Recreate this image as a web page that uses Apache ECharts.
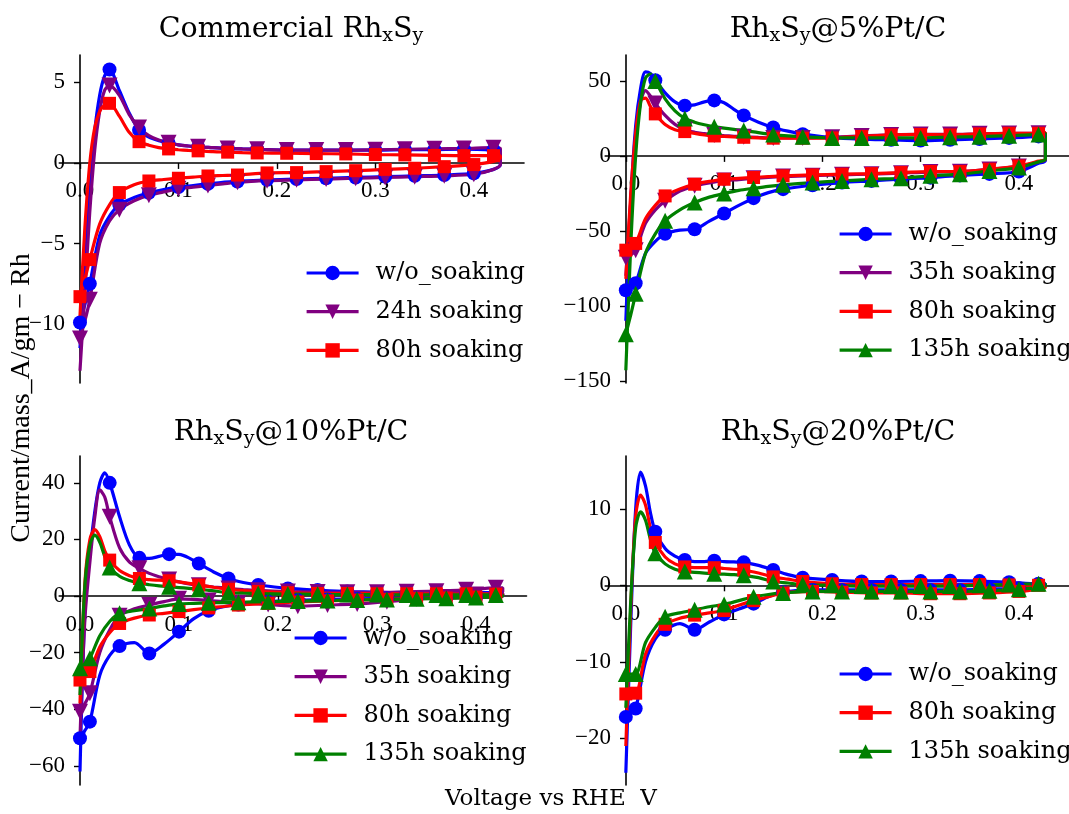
<!DOCTYPE html>
<html><head><meta charset="utf-8">
<script src="https://cdn.jsdelivr.net/npm/echarts@6/dist/echarts.min.js"></script>
<style>html,body{margin:0;padding:0;background:#fff}#c{width:1069px;height:814px}</style>
</head><body><div id="c"></div>
<script>
// ---- shared voltage sampling of the cyclic scans ----
const UP_X = [0, 0.005, 0.01, 0.015, 0.02, 0.025, 0.03, 0.04, 0.05, 0.06, 0.07, 0.08, 0.09, 0.10, 0.11, 0.12, 0.135, 0.15, 0.165, 0.18, 0.21, 0.24, 0.27, 0.30, 0.33, 0.36, 0.39, 0.42, 0.427];
const LO_X = [0.427, 0.42, 0.40, 0.37, 0.34, 0.31, 0.28, 0.25, 0.22, 0.19, 0.16, 0.145, 0.13, 0.115, 0.10, 0.085, 0.07, 0.055, 0.04, 0.03, 0.02, 0.01, 0.005, 0];
const UP_MARK_X = [0.03, 0.06, 0.09, 0.12, 0.15, 0.18, 0.21, 0.24, 0.27, 0.30, 0.33, 0.36, 0.39, 0.42];
const LO_MARK_X = [0.40, 0.37, 0.34, 0.31, 0.28, 0.25, 0.22, 0.19, 0.16, 0.13, 0.10, 0.07, 0.04, 0.01, 0];

const X_TICKS = [0, 0.1, 0.2, 0.3, 0.4];
const Y_TICKS_1 = [-10, -5, 0, 5];
const Y_TICKS_2 = [-150, -100, -50, 0, 50];
const Y_TICKS_3 = [-60, -40, -20, 0, 20, 40];
const Y_TICKS_4 = [-20, -10, 0, 10];

const TITLES = ['Commercial Rh{s|x}S{s|y}', 'Rh{s|x}S{s|y}@5%Pt/C', 'Rh{s|x}S{s|y}@10%Pt/C', 'Rh{s|x}S{s|y}@20%Pt/C'];
const LEG_1 = ['w/o_soaking', '24h soaking', '80h soaking'];
const LEG_2 = ['w/o_soaking', '35h soaking', '80h soaking', '135h soaking'];
const LEG_3 = ['w/o_soaking', '35h soaking', '80h soaking', '135h soaking'];
const LEG_4 = ['w/o_soaking', '80h soaking', '135h soaking'];

// ---- Panel 1: Commercial RhxSy ----
const P1_WO_UP = [-11.5, -6.5, -1.5, 2.0, 4.2, 5.4, 5.8, 4.5, 3.1, 2.05, 1.6, 1.38, 1.24, 1.12, 1.05, 1.0, 0.95, 0.9, 0.87, 0.85, 0.8, 0.8, 0.8, 0.8, 0.82, 0.83, 0.85, 0.8, 0.75];
const P1_WO_LO = [-0.1, -0.4, -0.65, -0.75, -0.8, -0.85, -0.9, -0.95, -1.0, -1.05, -1.15, -1.2, -1.3, -1.4, -1.5, -1.65, -1.85, -2.15, -2.6, -3.3, -4.5, -7.5, -8.8, -9.9];
const P1_24_UP = [-12.9, -8.0, -3.0, 0.8, 3.2, 4.5, 4.8, 4.2, 3.0, 2.2, 1.7, 1.42, 1.25, 1.12, 1.05, 1.0, 0.95, 0.9, 0.87, 0.85, 0.8, 0.8, 0.8, 0.82, 0.85, 0.88, 0.9, 0.95, 0.9];
const P1_24_LO = [-0.1, -0.4, -0.7, -0.8, -0.85, -0.9, -0.95, -1.0, -1.05, -1.1, -1.2, -1.3, -1.4, -1.5, -1.6, -1.8, -2.0, -2.35, -2.9, -3.6, -5.0, -8.5, -9.8, -10.9];
const P1_80_UP = [-9.5, -4.0, 0.0, 2.2, 3.2, 3.6, 3.7, 2.9, 1.9, 1.32, 1.1, 0.95, 0.87, 0.82, 0.78, 0.75, 0.7, 0.67, 0.64, 0.62, 0.6, 0.58, 0.56, 0.52, 0.5, 0.47, 0.45, 0.45, 0.45];
const P1_80_LO = [0.3, 0.1, -0.1, -0.23, -0.33, -0.4, -0.48, -0.54, -0.6, -0.62, -0.75, -0.78, -0.81, -0.88, -0.95, -1.03, -1.12, -1.35, -1.84, -2.6, -3.8, -6.0, -7.2, -8.3];

// ---- Panel 2: RhxSy@5%Pt/C ----
const P2_WO_UP = [-110, -30, 20, 45, 56, 55, 50.5, 42, 36, 33.5, 34, 36, 37, 35.5, 31, 27, 22.5, 19, 16.5, 14.5, 12.2, 11.2, 10.7, 10.2, 10.7, 11.3, 12, 13, 14];
const P2_WO_LO = [-3, -5, -10.4, -12, -13, -14.5, -15.5, -16.7, -17.8, -19.6, -22.2, -24.5, -28.2, -33, -38.4, -43.5, -48.9, -49.5, -52, -57, -65, -85, -88, -89.6];
const P2_35_UP = [-80, -30, 10, 36, 43.5, 40, 35, 27, 21, 17.5, 15.8, 14.8, 14, 13.5, 13.1, 12.7, 12.3, 12, 12, 12, 12.5, 13.3, 14, 14.3, 14.3, 14.7, 15, 15.1, 15.5];
const P2_35_LO = [-2, -4, -7, -9, -10.6, -10.8, -11.5, -12.2, -12.6, -13.2, -13.8, -14.3, -15, -15.8, -16.5, -18, -20, -23.5, -30, -36, -45, -63, -66, -68];
const P2_80_UP = [-82, -25, 15, 37, 38.5, 33, 28, 21, 17.5, 16.2, 15, 14, 13.3, 13, 12.7, 12.4, 12, 11.8, 11.8, 11.8, 12, 13, 14, 14.3, 14, 14.7, 15.1, 15.1, 15.5];
const P2_80_LO = [-2, -3.5, -6.7, -8.9, -10.4, -10.4, -11.1, -11.8, -12.2, -12.7, -13.3, -13.8, -14.4, -15, -15.6, -17, -18.9, -22, -26.7, -33, -42, -58.4, -61, -62.9];
const P2_135_UP = [-143, -60, 0, 35, 52, 54.5, 50, 38, 30, 25, 22.5, 20.8, 19.5, 18.5, 17.7, 17, 15.5, 14.2, 13.3, 12.7, 12, 12, 12, 12, 12.5, 12.8, 13.5, 14.3, 15];
const P2_135_LO = [-2, -4, -7.8, -10, -12.2, -13.3, -14.9, -15.6, -16.7, -17.8, -19.3, -20.3, -21.6, -23, -25.1, -27.5, -31.1, -36, -43.3, -52, -65, -92, -106, -119];

// ---- Panel 3: RhxSy@10%Pt/C ----
const P3_WO_UP = [-62, -5, 15, 30, 40, 43.5, 40, 28, 18, 13.5, 13.3, 14, 14.8, 14.7, 13.5, 11.5, 8.5, 6.2, 4.8, 3.9, 2.7, 2.1, 1.6, 1.4, 1.0, 1.1, 1.2, 1.2, 1.0];
const P3_WO_LO = [0, -0.3, -0.5, -0.6, -0.7, -0.8, -1.0, -1.2, -1.5, -2.0, -3.0, -3.8, -5.2, -8, -12.6, -17, -20.3, -16.5, -17.7, -21, -28, -44.4, -47.5, -50.3];
const P3_35_UP = [-50, -8, 12, 28, 37.5, 35, 28, 17, 12, 9.8, 8, 6.8, 5.8, 5, 4.3, 3.8, 3.2, 2.7, 2.3, 2.0, 1.6, 1.4, 1.3, 1.3, 1.5, 1.7, 2.2, 2.9, 2.9];
const P3_35_LO = [1.5, 1.0, 0.5, -0.3, -1.0, -2.0, -2.8, -3.2, -3.6, -3.0, -2.4, -2.0, -1.6, -1.2, -1.0, -2.0, -3.2, -4.5, -7, -12, -20, -34.4, -38, -40.9];
const P3_80_UP = [-38, 5, 20, 23.5, 21, 16, 12.7, 9, 7.2, 6.2, 5.8, 5.6, 5.4, 5, 4.5, 3.9, 3.1, 2.4, 1.9, 1.6, 1.2, 0.9, 0.9, 0.8, 0.8, 0.8, 0.8, 0.7, 0.7];
const P3_80_LO = [0, -0.2, -0.4, -0.7, -0.9, -1.1, -1.4, -1.7, -2.1, -2.6, -3.2, -3.7, -4.2, -4.8, -5.5, -6.1, -6.7, -7.8, -9.7, -13, -18, -26.7, -28, -29.7];
const P3_135_UP = [-35, 4, 18, 21.5, 19, 14, 10.1, 7, 5.5, 4.5, 4, 3.6, 3.3, 3.0, 2.7, 2.4, 1.8, 1.2, 1.0, 0.9, 0.7, 0.6, 0.5, 0.5, 0.4, 0.4, 0.4, 0.4, 0.4];
const P3_135_LO = [-0.1, -0.3, -0.5, -0.8, -1.0, -1.2, -1.4, -1.6, -1.8, -2.0, -2.2, -2.3, -2.4, -2.6, -2.8, -3.5, -4.4, -5.2, -6.1, -9, -14, -22, -24, -25.5];

// ---- Panel 4: RhxSy@20%Pt/C ----
const P4_WO_UP = [-24.5, -5, 10, 14.8, 13, 9.5, 7, 4.8, 3.8, 3.3, 3.1, 3.1, 3.2, 3.1, 3.05, 3.0, 2.6, 2.0, 1.4, 1.0, 0.7, 0.5, 0.5, 0.55, 0.6, 0.55, 0.4, 0.2, 0.2];
const P4_WO_LO = [0, -0.2, -0.4, -0.5, -0.6, -0.6, -0.6, -0.6, -0.6, -0.6, -0.9, -1.5, -2.4, -3.1, -3.8, -4.8, -5.8, -5.0, -5.8, -7, -10, -16.1, -16.6, -17.2];
const P4_80_UP = [-21, -3, 9, 11.8, 10.5, 7.5, 5.6, 3.7, 2.8, 2.4, 2.3, 2.3, 2.3, 2.2, 2.1, 2.0, 1.6, 1.1, 0.8, 0.5, 0.2, 0.1, 0.1, 0.1, 0.1, 0.1, 0.05, 0, 0];
const P4_80_LO = [-0.3, -0.5, -0.8, -1.0, -1.1, -1.1, -1.0, -1.0, -0.9, -0.8, -1.0, -1.5, -2.0, -2.6, -3.3, -3.6, -3.9, -4.3, -5.1, -6.5, -9, -14.1, -14.1, -14.2];
const P4_135_UP = [-16, -2, 7.5, 9.6, 8.5, 6, 4.2, 2.8, 2.1, 1.8, 1.7, 1.6, 1.5, 1.45, 1.4, 1.3, 1.0, 0.5, 0.3, 0.1, 0.0, -0.1, -0.1, -0.1, -0.1, 0, 0.1, 0.2, 0.2];
const P4_135_LO = [-0.1, -0.3, -0.5, -0.7, -0.8, -0.8, -0.8, -0.8, -0.8, -0.8, -1.0, -1.2, -1.5, -2.0, -2.5, -2.8, -3.2, -3.6, -4.1, -5.5, -7.5, -11.6, -11.6, -11.6];

// ---- styles ----
const STY = {
  'w/o_soaking': {color: '#0000ff', symbol: 'circle', size: 14, rot: 0},
  '24h soaking': {color: '#800080', symbol: 'triangle', size: 16, rot: 180},
  '35h soaking': {color: '#800080', symbol: 'triangle', size: 16, rot: 180},
  '80h soaking': {color: '#ff0000', symbol: 'rect', size: 13, rot: 0},
  '135h soaking': {color: '#008000', symbol: 'triangle', size: 16, rot: 0}
};
const near = (arr, x) => arr.some(v => Math.abs(v - x) < 1e-9);
function loop(up, lo) {
  const pts = [];
  UP_X.forEach((x, i) => pts.push(near(UP_MARK_X, x) ? {value: [x, up[i]]} : {value: [x, up[i]], symbol: 'none'}));
  LO_X.forEach((x, i) => pts.push(near(LO_MARK_X, x) ? {value: [x, lo[i]]} : {value: [x, lo[i]], symbol: 'none'}));
  return pts;
}
function ser(name, idx, up, lo) {
  const s = STY[name];
  return {
    type: 'line', name, xAxisIndex: idx, yAxisIndex: idx,
    data: loop(up, lo), smooth: 0.3,
    symbol: s.symbol, symbolSize: s.size, symbolRotate: s.rot, showAllSymbol: true,
    color: s.color, itemStyle: {color: s.color, borderWidth: 0},
    lineStyle: {color: s.color, width: 3.2},
    emphasis: {disabled: true}, animation: false
  };
}

const SERIES = [
  ser('w/o_soaking', 0, P1_WO_UP, P1_WO_LO), ser('24h soaking', 0, P1_24_UP, P1_24_LO), ser('80h soaking', 0, P1_80_UP, P1_80_LO),
  ser('w/o_soaking', 1, P2_WO_UP, P2_WO_LO), ser('35h soaking', 1, P2_35_UP, P2_35_LO), ser('80h soaking', 1, P2_80_UP, P2_80_LO), ser('135h soaking', 1, P2_135_UP, P2_135_LO),
  ser('w/o_soaking', 2, P3_WO_UP, P3_WO_LO), ser('35h soaking', 2, P3_35_UP, P3_35_LO), ser('80h soaking', 2, P3_80_UP, P3_80_LO), ser('135h soaking', 2, P3_135_UP, P3_135_LO),
  ser('w/o_soaking', 3, P4_WO_UP, P4_WO_LO), ser('80h soaking', 3, P4_80_UP, P4_80_LO), ser('135h soaking', 3, P4_135_UP, P4_135_LO)
];

const GRIDS = [
  {left: 59.3, top: 55, width: 464.7, height: 328},
  {left: 605.2, top: 55, width: 467.3, height: 328},
  {left: 59.2, top: 456, width: 467.3, height: 329},
  {left: 605.2, top: 456, width: 467.3, height: 329}
];
const XR = [-0.021, 0.451];
const YR = [[-13.66, 6.7], [-151.5, 67.3], [-66.8, 49.5], [-26.1, 16.9]];
const YT = [Y_TICKS_1, Y_TICKS_2, Y_TICKS_3, Y_TICKS_4];
const minus = v => (v < 0 ? '\u2212' + Math.abs(v) : String(v));
const axLine = {show: true, onZero: false, lineStyle: {color: '#000', width: 1.6}};
const tickFont = {color: '#000', fontFamily: 'Liberation Serif', fontSize: 23};
const tickStyle = {show: true, length: 6, lineStyle: {color: '#000', width: 1.4}};

// spines sit at the data zero: shift each axis from the grid edge to the zero position
const xAxes = GRIDS.map((g, i) => ({
  type: 'value', gridIndex: i, min: XR[0], max: XR[1], position: 'bottom',
  offset: -g.height * (0 - YR[i][0]) / (YR[i][1] - YR[i][0]),
  axisLine: axLine, splitLine: {show: false},
  axisTick: Object.assign({customValues: X_TICKS}, tickStyle),
  axisLabel: Object.assign({margin: 17, customValues: X_TICKS, formatter: v => v.toFixed(1)}, tickFont)
}));
const yAxes = GRIDS.map((g, i) => ({
  type: 'value', gridIndex: i, min: YR[i][0], max: YR[i][1], position: 'left',
  offset: -g.width * (0 - XR[0]) / (XR[1] - XR[0]),
  axisLine: axLine, splitLine: {show: false},
  axisTick: Object.assign({customValues: YT[i]}, tickStyle),
  axisLabel: Object.assign({margin: 15, customValues: YT[i], formatter: minus}, tickFont)
}));

const LEGS = [LEG_1, LEG_2, LEG_3, LEG_4];
const LEG_POS = [[305, 261], [838, 222], [293, 626], [838, 662]];
const legends = LEGS.map((d, i) => ({
  data: d, orient: 'vertical', left: LEG_POS[i][0], top: LEG_POS[i][1], padding: 0,
  itemWidth: 52, itemHeight: 18, itemGap: 14.7, selectedMode: false,
  lineStyle: {width: 3.2},
  textStyle: {fontFamily: 'DejaVu Serif', fontSize: 24, color: '#000', lineHeight: 24, padding: [0, 0, 0, 12]}
}));

const TITLE_POS = [[291, 30], [838, 30], [291, 433], [838, 433]];
const richT = {
  a: {fontFamily: 'DejaVu Serif', fontSize: 28.5, lineHeight: 32, color: '#000'},
  s: {fontFamily: 'DejaVu Serif', fontSize: 19, lineHeight: 19, verticalAlign: 'bottom', color: '#000'}
};
const graphics = TITLES.map((t, i) => ({
  type: 'text', x: TITLE_POS[i][0], y: TITLE_POS[i][1],
  style: {text: t.replace(/^([^{]+)/, '{a|$1}').replace(/\}([^{]+)/g, '}{a|$1}'), rich: richT, align: 'center', verticalAlign: 'middle'}
}));
graphics.push({
  type: 'text', x: 22, y: 398, rotation: Math.PI / 2,
  style: {text: 'Current/mass_A/gm \u2212 Rh', fontFamily: 'Liberation Serif', fontSize: 28, fill: '#000', align: 'center', verticalAlign: 'middle'}
});
graphics.push({
  type: 'text', x: 551, y: 799,
  style: {text: 'Voltage vs RHE  V', fontFamily: 'DejaVu Serif', fontSize: 23, fill: '#000', align: 'center', verticalAlign: 'middle'}
});

const chart = echarts.init(document.getElementById('c'), null, {renderer: 'canvas'});
chart.setOption({
  backgroundColor: '#fff', animation: false,
  grid: GRIDS, xAxis: xAxes, yAxis: yAxes,
  legend: legends, series: SERIES, graphic: graphics
});
</script></body></html>
